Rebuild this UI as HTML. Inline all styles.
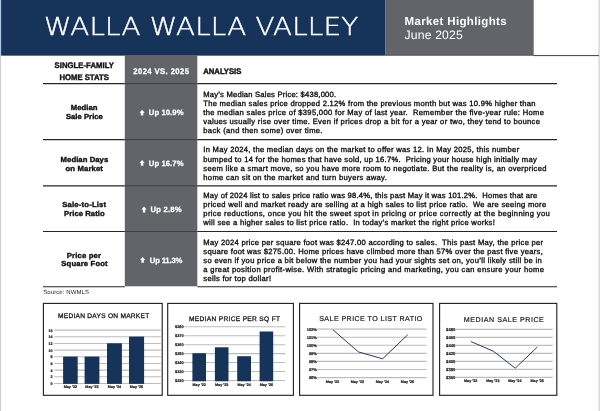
<!DOCTYPE html>
<html><head><meta charset="utf-8"><title>Walla Walla Valley Market Highlights</title><style>
html,body{margin:0;padding:0;background:#fff;}
body{width:600px;height:411px;position:relative;overflow:hidden;text-rendering:geometricPrecision;font-family:"Liberation Sans",sans-serif;color:#141414;}
svg.bg{position:absolute;left:0;top:0;}
.t{position:absolute;white-space:nowrap;}
</style></head><body>
<svg class="bg" width="600" height="411" viewBox="0 0 600 411">
<rect x="0" y="0" width="1.1" height="411" fill="#d0d0d2"/>
<rect x="0" y="0" width="1.1" height="55.2" fill="#a9c3e3"/>
<rect x="598.6" y="0" width="1.0" height="411" fill="#c6c6c6"/>
<rect x="1.1" y="0" width="384.1" height="55.2" fill="#16335a"/>
<rect x="385.2" y="0" width="148.5" height="55.2" fill="#636469"/>
<line x1="1.2" y1="55.4" x2="534" y2="55.4" stroke="#20242c" stroke-width="0.6"/>
<line x1="533.8" y1="55.6" x2="599" y2="55.6" stroke="#2a2a2a" stroke-width="0.9"/>
<rect x="124.8" y="55" width="72.5" height="231.3" fill="#636469"/>
<line x1="43" y1="83.6" x2="124.8" y2="83.6" stroke="#262626" stroke-width="1.15"/>
<line x1="197.3" y1="83.6" x2="557" y2="83.6" stroke="#262626" stroke-width="1.15"/>
<line x1="124.8" y1="83.6" x2="197.3" y2="83.6" stroke="#3e3f45" stroke-width="1.0"/>
<line x1="43" y1="139.6" x2="124.8" y2="139.6" stroke="#262626" stroke-width="1.15"/>
<line x1="197.3" y1="139.6" x2="557" y2="139.6" stroke="#262626" stroke-width="1.15"/>
<line x1="124.8" y1="139.6" x2="197.3" y2="139.6" stroke="#3e3f45" stroke-width="1.0"/>
<line x1="43" y1="185.8" x2="124.8" y2="185.8" stroke="#262626" stroke-width="1.15"/>
<line x1="197.3" y1="185.8" x2="557" y2="185.8" stroke="#262626" stroke-width="1.15"/>
<line x1="124.8" y1="185.8" x2="197.3" y2="185.8" stroke="#3e3f45" stroke-width="1.0"/>
<line x1="43" y1="231.5" x2="124.8" y2="231.5" stroke="#262626" stroke-width="1.15"/>
<line x1="197.3" y1="231.5" x2="557" y2="231.5" stroke="#262626" stroke-width="1.15"/>
<line x1="124.8" y1="231.5" x2="197.3" y2="231.5" stroke="#3e3f45" stroke-width="1.0"/>
<line x1="43" y1="286.7" x2="124.8" y2="286.7" stroke="#262626" stroke-width="1.15"/>
<line x1="197.3" y1="286.7" x2="557" y2="286.7" stroke="#262626" stroke-width="1.15"/>
<path transform="translate(139.50,109.70)" d="M2.6 0 L5.2 3.0 H3.8 V5.8 H1.4 V3.0 H0 Z" fill="#fff"/>
<path transform="translate(139.50,160.00)" d="M2.6 0 L5.2 3.0 H3.8 V5.8 H1.4 V3.0 H0 Z" fill="#fff"/>
<path transform="translate(141.40,206.60)" d="M2.6 0 L5.2 3.0 H3.8 V5.8 H1.4 V3.0 H0 Z" fill="#fff"/>
<path transform="translate(140.00,256.90)" d="M2.6 0 L5.2 3.0 H3.8 V5.8 H1.4 V3.0 H0 Z" fill="#fff"/>
<rect x="43.4" y="303.4" width="118.79999999999998" height="91.90000000000003" fill="#fff" stroke="#1c1c1c" stroke-width="1.1"/>
<line x1="54.2" y1="330.1" x2="160.7" y2="330.1" stroke="#bcbcbc" stroke-width="1.1"/>
<line x1="54.2" y1="336.77" x2="160.7" y2="336.77" stroke="#bcbcbc" stroke-width="1.1"/>
<line x1="54.2" y1="343.44" x2="160.7" y2="343.44" stroke="#bcbcbc" stroke-width="1.1"/>
<line x1="54.2" y1="350.11" x2="160.7" y2="350.11" stroke="#bcbcbc" stroke-width="1.1"/>
<line x1="54.2" y1="356.78" x2="160.7" y2="356.78" stroke="#bcbcbc" stroke-width="1.1"/>
<line x1="54.2" y1="363.45" x2="160.7" y2="363.45" stroke="#bcbcbc" stroke-width="1.1"/>
<line x1="54.2" y1="370.12" x2="160.7" y2="370.12" stroke="#bcbcbc" stroke-width="1.1"/>
<line x1="54.2" y1="376.79" x2="160.7" y2="376.79" stroke="#bcbcbc" stroke-width="1.1"/>
<line x1="54.2" y1="383.46" x2="160.7" y2="383.46" stroke="#bcbcbc" stroke-width="1.1"/>
<rect x="63.1" y="356.6" width="14.6" height="27.3" fill="#16335a"/>
<rect x="84.6" y="356.6" width="14.8" height="27.3" fill="#16335a"/>
<rect x="107" y="343.3" width="14.9" height="40.6" fill="#16335a"/>
<rect x="129" y="336.6" width="15.1" height="47.3" fill="#16335a"/>
<rect x="167.7" y="303.4" width="125.69999999999999" height="91.90000000000003" fill="#fff" stroke="#1c1c1c" stroke-width="1.1"/>
<line x1="184.3" y1="326.8" x2="285.2" y2="326.8" stroke="#bcbcbc" stroke-width="1.1"/>
<line x1="184.3" y1="335.74" x2="285.2" y2="335.74" stroke="#bcbcbc" stroke-width="1.1"/>
<line x1="184.3" y1="344.68" x2="285.2" y2="344.68" stroke="#bcbcbc" stroke-width="1.1"/>
<line x1="184.3" y1="353.62" x2="285.2" y2="353.62" stroke="#bcbcbc" stroke-width="1.1"/>
<line x1="184.3" y1="362.56" x2="285.2" y2="362.56" stroke="#bcbcbc" stroke-width="1.1"/>
<line x1="184.3" y1="371.5" x2="285.2" y2="371.5" stroke="#bcbcbc" stroke-width="1.1"/>
<line x1="184.3" y1="380.44" x2="285.2" y2="380.44" stroke="#bcbcbc" stroke-width="1.1"/>
<rect x="192.4" y="353.2" width="13.6" height="28.1" fill="#16335a"/>
<rect x="214.9" y="347.3" width="13.6" height="34.0" fill="#16335a"/>
<rect x="237.2" y="356.2" width="13.8" height="25.1" fill="#16335a"/>
<rect x="259.6" y="331.5" width="13.6" height="49.8" fill="#16335a"/>
<rect x="299.6" y="303.4" width="133.39999999999998" height="91.90000000000003" fill="#fff" stroke="#1c1c1c" stroke-width="1.1"/>
<line x1="316.9" y1="329.1" x2="426.6" y2="329.1" stroke="#bcbcbc" stroke-width="1.1"/>
<line x1="316.9" y1="337.18" x2="426.6" y2="337.18" stroke="#bcbcbc" stroke-width="1.1"/>
<line x1="316.9" y1="345.26" x2="426.6" y2="345.26" stroke="#bcbcbc" stroke-width="1.1"/>
<line x1="316.9" y1="353.34" x2="426.6" y2="353.34" stroke="#bcbcbc" stroke-width="1.1"/>
<line x1="316.9" y1="361.42" x2="426.6" y2="361.42" stroke="#bcbcbc" stroke-width="1.1"/>
<line x1="316.9" y1="369.5" x2="426.6" y2="369.5" stroke="#bcbcbc" stroke-width="1.1"/>
<line x1="316.9" y1="377.58" x2="426.6" y2="377.58" stroke="#bcbcbc" stroke-width="1.1"/>
<polyline points="333.0,329.8 358.4,351.9 382.6,358.8 407.7,334.8" fill="none" stroke="#1b3052" stroke-width="0.95" stroke-linejoin="round"/>
<rect x="439.6" y="303.4" width="117.19999999999993" height="91.90000000000003" fill="#fff" stroke="#1c1c1c" stroke-width="1.1"/>
<line x1="455.7" y1="329.4" x2="552.7" y2="329.4" stroke="#bcbcbc" stroke-width="1.1"/>
<line x1="455.7" y1="337.4" x2="552.7" y2="337.4" stroke="#bcbcbc" stroke-width="1.1"/>
<line x1="455.7" y1="345.4" x2="552.7" y2="345.4" stroke="#bcbcbc" stroke-width="1.1"/>
<line x1="455.7" y1="353.4" x2="552.7" y2="353.4" stroke="#bcbcbc" stroke-width="1.1"/>
<line x1="455.7" y1="361.4" x2="552.7" y2="361.4" stroke="#bcbcbc" stroke-width="1.1"/>
<line x1="455.7" y1="369.4" x2="552.7" y2="369.4" stroke="#bcbcbc" stroke-width="1.1"/>
<line x1="455.7" y1="377.4" x2="552.7" y2="377.4" stroke="#bcbcbc" stroke-width="1.1"/>
<polyline points="471,341.6 493.5,351.3 515.2,368.2 537.4,347.0" fill="none" stroke="#1b3052" stroke-width="0.95" stroke-linejoin="round"/>
</svg>
<div class="t" style="top:11px;font-size:24.7px;line-height:32.11px;color:#fff;font-weight:200;font-family:'DejaVu Sans','Liberation Sans',sans-serif;letter-spacing:0.204px;-webkit-text-stroke:0.4px #fff;transform:scale(1.125,1);transform-origin:0 24px;left:44.40px;">WALLA WALLA VALLEY</div>
<div class="t" style="top:15px;font-size:11.5px;line-height:14.95px;color:#fff;font-weight:700;letter-spacing:0.357px;left:404.50px;">Market Highlights</div>
<div class="t" style="top:28px;font-size:12.2px;line-height:15.86px;color:#fff;letter-spacing:0.170px;left:404.50px;">June 2025</div>
<div class="t" style="top:61px;font-size:7.7px;line-height:10.01px;color:#141414;font-weight:700;letter-spacing:0.052px;-webkit-text-stroke:0.4px #141414;transform:scale(1,1.06);transform-origin:50% 7px;left:4.23px;width:160px;text-align:center;">SINGLE-FAMILY</div>
<div class="t" style="top:73px;font-size:7.7px;line-height:10.01px;color:#141414;font-weight:700;-webkit-text-stroke:0.4px #141414;transform:scale(1,1.06);transform-origin:50% 7px;left:4.20px;width:160px;text-align:center;">HOME STATS</div>
<div class="t" style="top:103px;font-size:7.7px;line-height:10.01px;color:#141414;font-weight:700;letter-spacing:0.043px;-webkit-text-stroke:0.4px #141414;transform:scale(1,0.95);transform-origin:50% 7px;left:4.22px;width:160px;text-align:center;">Median</div>
<div class="t" style="top:112px;font-size:7.7px;line-height:10.01px;color:#141414;font-weight:700;letter-spacing:0.026px;-webkit-text-stroke:0.4px #141414;transform:scale(1,0.95);transform-origin:50% 7px;left:4.41px;width:160px;text-align:center;">Sale Price</div>
<div class="t" style="top:155px;font-size:7.7px;line-height:10.01px;color:#141414;font-weight:700;letter-spacing:0.060px;-webkit-text-stroke:0.4px #141414;transform:scale(1,0.95);transform-origin:50% 7px;left:4.43px;width:160px;text-align:center;">Median Days</div>
<div class="t" style="top:164px;font-size:7.7px;line-height:10.01px;color:#141414;font-weight:700;letter-spacing:0.148px;-webkit-text-stroke:0.4px #141414;transform:scale(1,0.95);transform-origin:50% 7px;left:4.27px;width:160px;text-align:center;">on Market</div>
<div class="t" style="top:200px;font-size:7.7px;line-height:10.01px;color:#141414;font-weight:700;letter-spacing:0.186px;-webkit-text-stroke:0.4px #141414;transform:scale(1,0.95);transform-origin:50% 7px;left:4.29px;width:160px;text-align:center;">Sale-to-List</div>
<div class="t" style="top:209px;font-size:7.7px;line-height:10.01px;color:#141414;font-weight:700;letter-spacing:0.043px;-webkit-text-stroke:0.4px #141414;transform:scale(1,0.95);transform-origin:50% 7px;left:4.42px;width:160px;text-align:center;">Price Ratio</div>
<div class="t" style="top:251px;font-size:7.7px;line-height:10.01px;color:#141414;font-weight:700;letter-spacing:0.174px;-webkit-text-stroke:0.4px #141414;transform:scale(1,0.95);transform-origin:50% 7px;left:3.99px;width:160px;text-align:center;">Price per</div>
<div class="t" style="top:259px;font-size:7.7px;line-height:10.01px;color:#141414;font-weight:700;letter-spacing:0.144px;-webkit-text-stroke:0.4px #141414;transform:scale(1,0.95);transform-origin:50% 7px;left:4.57px;width:160px;text-align:center;">Square Foot</div>
<div class="t" style="top:67px;font-size:7.7px;line-height:10.01px;color:#fff;font-weight:700;letter-spacing:0.402px;-webkit-text-stroke:0.25px #fff;transform:scale(1,1.06);transform-origin:0 7px;left:133.30px;">2024 VS. 2025</div>
<div class="t" style="top:67px;font-size:7.7px;line-height:10.01px;color:#141414;font-weight:700;letter-spacing:-0.025px;-webkit-text-stroke:0.4px #141414;transform:scale(1,1.06);transform-origin:0 7px;left:203.30px;">ANALYSIS</div>
<div class="t" style="top:108px;font-size:7.7px;line-height:10.01px;color:#fff;font-weight:700;letter-spacing:0.073px;-webkit-text-stroke:0.25px #fff;left:148.80px;">Up 10.9%</div>
<div class="t" style="top:159px;font-size:7.7px;line-height:10.01px;color:#fff;font-weight:700;letter-spacing:0.073px;-webkit-text-stroke:0.25px #fff;left:148.80px;">Up 16.7%</div>
<div class="t" style="top:205px;font-size:7.7px;line-height:10.01px;color:#fff;font-weight:700;letter-spacing:0.182px;-webkit-text-stroke:0.25px #fff;left:150.60px;">Up 2.8%</div>
<div class="t" style="top:256px;font-size:7.7px;line-height:10.01px;color:#fff;font-weight:700;letter-spacing:-0.167px;-webkit-text-stroke:0.25px #fff;left:149.80px;">Up 11.3%</div>
<div class="t" style="top:90px;font-size:7.6px;line-height:9.88px;color:#111;letter-spacing:0.223px;-webkit-text-stroke:0.35px #111;left:203.30px;">May’s Median Sales Price: $438,000.</div>
<div class="t" style="top:99px;font-size:7.6px;line-height:9.88px;color:#111;letter-spacing:0.283px;-webkit-text-stroke:0.35px #111;left:203.30px;">The median sales price dropped 2.12% from the previous month but was 10.9% higher than</div>
<div class="t" style="top:108px;font-size:7.6px;line-height:9.88px;color:#111;letter-spacing:0.324px;-webkit-text-stroke:0.35px #111;left:203.30px;">the median sales price of $395,000 for May of last year.&nbsp; Remember the five-year rule: Home</div>
<div class="t" style="top:117px;font-size:7.6px;line-height:9.88px;color:#111;letter-spacing:0.317px;-webkit-text-stroke:0.35px #111;left:203.30px;">values usually rise over time. Even if prices drop a bit for a year or two, they tend to bounce</div>
<div class="t" style="top:126px;font-size:7.6px;line-height:9.88px;color:#111;letter-spacing:0.343px;-webkit-text-stroke:0.35px #111;left:203.30px;">back (and then some) over time.</div>
<div class="t" style="top:145px;font-size:7.6px;line-height:9.88px;color:#111;letter-spacing:0.288px;-webkit-text-stroke:0.35px #111;left:203.30px;">In May 2024, the median days on the market to offer was 12. In May 2025, this number</div>
<div class="t" style="top:155px;font-size:7.6px;line-height:9.88px;color:#111;letter-spacing:0.286px;-webkit-text-stroke:0.35px #111;left:203.30px;">bumped to 14 for the homes that have sold, up 16.7%.&nbsp; Pricing your house high initially may</div>
<div class="t" style="top:164px;font-size:7.6px;line-height:9.88px;color:#111;letter-spacing:0.312px;-webkit-text-stroke:0.35px #111;left:203.30px;">seem like a smart move, so you have more room to negotiate. But the reality is, an overpriced</div>
<div class="t" style="top:173px;font-size:7.6px;line-height:9.88px;color:#111;letter-spacing:0.333px;-webkit-text-stroke:0.35px #111;left:203.30px;">home can sit on the market and turn buyers away.</div>
<div class="t" style="top:191px;font-size:7.6px;line-height:9.88px;color:#111;letter-spacing:0.230px;-webkit-text-stroke:0.35px #111;left:203.30px;">May of 2024 list to sales price ratio was 98.4%, this past May it was 101.2%.&nbsp; Homes that are</div>
<div class="t" style="top:200px;font-size:7.6px;line-height:9.88px;color:#111;letter-spacing:0.293px;-webkit-text-stroke:0.35px #111;left:203.30px;">priced well and market ready are selling at a high sales to list price ratio.&nbsp; We are seeing more</div>
<div class="t" style="top:209px;font-size:7.6px;line-height:9.88px;color:#111;letter-spacing:0.372px;-webkit-text-stroke:0.35px #111;left:203.30px;">price reductions, once you hit the sweet spot in pricing or price correctly at the beginning you</div>
<div class="t" style="top:218px;font-size:7.6px;line-height:9.88px;color:#111;letter-spacing:0.303px;-webkit-text-stroke:0.35px #111;left:203.30px;">will see a higher sales to list price ratio.&nbsp; In today’s market the right price works!</div>
<div class="t" style="top:238px;font-size:7.6px;line-height:9.88px;color:#111;letter-spacing:0.296px;-webkit-text-stroke:0.35px #111;left:203.30px;">May 2024 price per square foot was $247.00 according to sales.&nbsp; This past May, the price per</div>
<div class="t" style="top:247px;font-size:7.6px;line-height:9.88px;color:#111;letter-spacing:0.299px;-webkit-text-stroke:0.35px #111;left:203.30px;">square foot was $275.00. Home prices have climbed more than 57% over the past five years,</div>
<div class="t" style="top:256px;font-size:7.6px;line-height:9.88px;color:#111;letter-spacing:0.324px;-webkit-text-stroke:0.35px #111;left:203.30px;">so even if you price a bit below the number you had your sights set on, you’ll likely still be in</div>
<div class="t" style="top:265px;font-size:7.6px;line-height:9.88px;color:#111;letter-spacing:0.363px;-webkit-text-stroke:0.35px #111;left:203.30px;">a great position profit-wise. With strategic pricing and marketing, you can ensure your home</div>
<div class="t" style="top:274px;font-size:7.6px;line-height:9.88px;color:#111;letter-spacing:0.304px;-webkit-text-stroke:0.35px #111;left:203.30px;">sells for top dollar!</div>
<div class="t" style="top:290px;font-size:6.0px;line-height:7.8px;color:#222;letter-spacing:0.093px;left:43.20px;">Source: NWMLS</div>
<div class="t" style="top:313px;font-size:6.6px;line-height:8.58px;color:#1c1c1c;letter-spacing:0.261px;-webkit-text-stroke:0.3px #1c1c1c;left:58.00px;">MEDIAN DAYS ON MARKET</div>
<div class="t" style="top:329px;font-size:3.7px;line-height:4.81px;color:#1c1c1c;font-weight:700;-webkit-text-stroke:0.2px #1c1c1c;left:-107.40px;width:160px;text-align:right;">16</div>
<div class="t" style="top:335px;font-size:3.7px;line-height:4.81px;color:#1c1c1c;font-weight:700;-webkit-text-stroke:0.2px #1c1c1c;left:-107.40px;width:160px;text-align:right;">14</div>
<div class="t" style="top:342px;font-size:3.7px;line-height:4.81px;color:#1c1c1c;font-weight:700;-webkit-text-stroke:0.2px #1c1c1c;left:-107.40px;width:160px;text-align:right;">12</div>
<div class="t" style="top:349px;font-size:3.7px;line-height:4.81px;color:#1c1c1c;font-weight:700;-webkit-text-stroke:0.2px #1c1c1c;left:-107.40px;width:160px;text-align:right;">10</div>
<div class="t" style="top:355px;font-size:3.7px;line-height:4.81px;color:#1c1c1c;font-weight:700;-webkit-text-stroke:0.2px #1c1c1c;left:-107.40px;width:160px;text-align:right;">8</div>
<div class="t" style="top:362px;font-size:3.7px;line-height:4.81px;color:#1c1c1c;font-weight:700;-webkit-text-stroke:0.2px #1c1c1c;left:-107.40px;width:160px;text-align:right;">6</div>
<div class="t" style="top:369px;font-size:3.7px;line-height:4.81px;color:#1c1c1c;font-weight:700;-webkit-text-stroke:0.2px #1c1c1c;left:-107.40px;width:160px;text-align:right;">4</div>
<div class="t" style="top:375px;font-size:3.7px;line-height:4.81px;color:#1c1c1c;font-weight:700;-webkit-text-stroke:0.2px #1c1c1c;left:-107.40px;width:160px;text-align:right;">2</div>
<div class="t" style="top:382px;font-size:3.7px;line-height:4.81px;color:#1c1c1c;font-weight:700;-webkit-text-stroke:0.2px #1c1c1c;left:-107.40px;width:160px;text-align:right;">0</div>
<div class="t" style="top:385px;font-size:3.7px;line-height:4.81px;color:#1c1c1c;font-weight:700;-webkit-text-stroke:0.2px #1c1c1c;left:-9.60px;width:160px;text-align:center;">May ’22</div>
<div class="t" style="top:385px;font-size:3.7px;line-height:4.81px;color:#1c1c1c;font-weight:700;-webkit-text-stroke:0.2px #1c1c1c;left:12.00px;width:160px;text-align:center;">May ’23</div>
<div class="t" style="top:385px;font-size:3.7px;line-height:4.81px;color:#1c1c1c;font-weight:700;-webkit-text-stroke:0.2px #1c1c1c;left:34.50px;width:160px;text-align:center;">May ’24</div>
<div class="t" style="top:385px;font-size:3.7px;line-height:4.81px;color:#1c1c1c;font-weight:700;-webkit-text-stroke:0.2px #1c1c1c;left:56.50px;width:160px;text-align:center;">May ’25</div>
<div class="t" style="top:316px;font-size:6.6px;line-height:8.58px;color:#1c1c1c;letter-spacing:0.330px;-webkit-text-stroke:0.3px #1c1c1c;left:188.90px;">MEDIAN PRICE PER SQ FT</div>
<div class="t" style="top:324px;font-size:3.9px;line-height:5.07px;color:#1c1c1c;font-weight:700;-webkit-text-stroke:0.2px #1c1c1c;left:23.70px;width:160px;text-align:right;">$280</div>
<div class="t" style="top:333px;font-size:3.9px;line-height:5.07px;color:#1c1c1c;font-weight:700;-webkit-text-stroke:0.2px #1c1c1c;left:23.70px;width:160px;text-align:right;">$270</div>
<div class="t" style="top:342px;font-size:3.9px;line-height:5.07px;color:#1c1c1c;font-weight:700;-webkit-text-stroke:0.2px #1c1c1c;left:23.70px;width:160px;text-align:right;">$260</div>
<div class="t" style="top:351px;font-size:3.9px;line-height:5.07px;color:#1c1c1c;font-weight:700;-webkit-text-stroke:0.2px #1c1c1c;left:23.70px;width:160px;text-align:right;">$250</div>
<div class="t" style="top:360px;font-size:3.9px;line-height:5.07px;color:#1c1c1c;font-weight:700;-webkit-text-stroke:0.2px #1c1c1c;left:23.70px;width:160px;text-align:right;">$240</div>
<div class="t" style="top:369px;font-size:3.9px;line-height:5.07px;color:#1c1c1c;font-weight:700;-webkit-text-stroke:0.2px #1c1c1c;left:23.70px;width:160px;text-align:right;">$230</div>
<div class="t" style="top:378px;font-size:3.9px;line-height:5.07px;color:#1c1c1c;font-weight:700;-webkit-text-stroke:0.2px #1c1c1c;left:23.70px;width:160px;text-align:right;">$220</div>
<div class="t" style="top:383px;font-size:3.7px;line-height:4.81px;color:#1c1c1c;font-weight:700;-webkit-text-stroke:0.2px #1c1c1c;left:119.20px;width:160px;text-align:center;">May ’22</div>
<div class="t" style="top:383px;font-size:3.7px;line-height:4.81px;color:#1c1c1c;font-weight:700;-webkit-text-stroke:0.2px #1c1c1c;left:141.70px;width:160px;text-align:center;">May ’23</div>
<div class="t" style="top:383px;font-size:3.7px;line-height:4.81px;color:#1c1c1c;font-weight:700;-webkit-text-stroke:0.2px #1c1c1c;left:164.10px;width:160px;text-align:center;">May ’24</div>
<div class="t" style="top:383px;font-size:3.7px;line-height:4.81px;color:#1c1c1c;font-weight:700;-webkit-text-stroke:0.2px #1c1c1c;left:186.40px;width:160px;text-align:center;">May ’25</div>
<div class="t" style="top:315px;font-size:7.1px;line-height:9.23px;color:#1c1c1c;letter-spacing:0.430px;-webkit-text-stroke:0.2px #1c1c1c;left:319.20px;">SALE PRICE TO LIST RATIO</div>
<div class="t" style="top:327px;font-size:4.0px;line-height:5.2px;color:#1c1c1c;font-weight:700;-webkit-text-stroke:0.2px #1c1c1c;left:156.90px;width:160px;text-align:right;">102%</div>
<div class="t" style="top:335px;font-size:4.0px;line-height:5.2px;color:#1c1c1c;font-weight:700;-webkit-text-stroke:0.2px #1c1c1c;left:156.90px;width:160px;text-align:right;">101%</div>
<div class="t" style="top:343px;font-size:4.0px;line-height:5.2px;color:#1c1c1c;font-weight:700;-webkit-text-stroke:0.2px #1c1c1c;left:156.90px;width:160px;text-align:right;">100%</div>
<div class="t" style="top:351px;font-size:4.0px;line-height:5.2px;color:#1c1c1c;font-weight:700;-webkit-text-stroke:0.2px #1c1c1c;left:156.90px;width:160px;text-align:right;">99%</div>
<div class="t" style="top:359px;font-size:4.0px;line-height:5.2px;color:#1c1c1c;font-weight:700;-webkit-text-stroke:0.2px #1c1c1c;left:156.90px;width:160px;text-align:right;">98%</div>
<div class="t" style="top:367px;font-size:4.0px;line-height:5.2px;color:#1c1c1c;font-weight:700;-webkit-text-stroke:0.2px #1c1c1c;left:156.90px;width:160px;text-align:right;">97%</div>
<div class="t" style="top:375px;font-size:4.0px;line-height:5.2px;color:#1c1c1c;font-weight:700;-webkit-text-stroke:0.2px #1c1c1c;left:156.90px;width:160px;text-align:right;">96%</div>
<div class="t" style="top:380px;font-size:3.7px;line-height:4.81px;color:#1c1c1c;font-weight:700;-webkit-text-stroke:0.2px #1c1c1c;left:252.50px;width:160px;text-align:center;">May ’22</div>
<div class="t" style="top:380px;font-size:3.7px;line-height:4.81px;color:#1c1c1c;font-weight:700;-webkit-text-stroke:0.2px #1c1c1c;left:277.40px;width:160px;text-align:center;">May ’23</div>
<div class="t" style="top:380px;font-size:3.7px;line-height:4.81px;color:#1c1c1c;font-weight:700;-webkit-text-stroke:0.2px #1c1c1c;left:302.40px;width:160px;text-align:center;">May ’24</div>
<div class="t" style="top:380px;font-size:3.7px;line-height:4.81px;color:#1c1c1c;font-weight:700;-webkit-text-stroke:0.2px #1c1c1c;left:327.50px;width:160px;text-align:center;">May ’25</div>
<div class="t" style="top:316px;font-size:7.1px;line-height:9.23px;color:#1c1c1c;letter-spacing:0.540px;-webkit-text-stroke:0.2px #1c1c1c;left:463.80px;">MEDIAN SALE PRICE</div>
<div class="t" style="top:327px;font-size:4.2px;line-height:5.46px;color:#1c1c1c;font-weight:700;-webkit-text-stroke:0.2px #1c1c1c;left:295.40px;width:160px;text-align:right;">$480</div>
<div class="t" style="top:335px;font-size:4.2px;line-height:5.46px;color:#1c1c1c;font-weight:700;-webkit-text-stroke:0.2px #1c1c1c;left:295.40px;width:160px;text-align:right;">$460</div>
<div class="t" style="top:343px;font-size:4.2px;line-height:5.46px;color:#1c1c1c;font-weight:700;-webkit-text-stroke:0.2px #1c1c1c;left:295.40px;width:160px;text-align:right;">$440</div>
<div class="t" style="top:351px;font-size:4.2px;line-height:5.46px;color:#1c1c1c;font-weight:700;-webkit-text-stroke:0.2px #1c1c1c;left:295.40px;width:160px;text-align:right;">$420</div>
<div class="t" style="top:359px;font-size:4.2px;line-height:5.46px;color:#1c1c1c;font-weight:700;-webkit-text-stroke:0.2px #1c1c1c;left:295.40px;width:160px;text-align:right;">$400</div>
<div class="t" style="top:367px;font-size:4.2px;line-height:5.46px;color:#1c1c1c;font-weight:700;-webkit-text-stroke:0.2px #1c1c1c;left:295.40px;width:160px;text-align:right;">$380</div>
<div class="t" style="top:375px;font-size:4.2px;line-height:5.46px;color:#1c1c1c;font-weight:700;-webkit-text-stroke:0.2px #1c1c1c;left:295.40px;width:160px;text-align:right;">$360</div>
<div class="t" style="top:379px;font-size:3.7px;line-height:4.81px;color:#1c1c1c;font-weight:700;-webkit-text-stroke:0.2px #1c1c1c;left:390.70px;width:160px;text-align:center;">May ’22</div>
<div class="t" style="top:379px;font-size:3.7px;line-height:4.81px;color:#1c1c1c;font-weight:700;-webkit-text-stroke:0.2px #1c1c1c;left:412.80px;width:160px;text-align:center;">May ’23</div>
<div class="t" style="top:379px;font-size:3.7px;line-height:4.81px;color:#1c1c1c;font-weight:700;-webkit-text-stroke:0.2px #1c1c1c;left:434.80px;width:160px;text-align:center;">May ’24</div>
<div class="t" style="top:379px;font-size:3.7px;line-height:4.81px;color:#1c1c1c;font-weight:700;-webkit-text-stroke:0.2px #1c1c1c;left:457.20px;width:160px;text-align:center;">May ’25</div>
</body></html>
